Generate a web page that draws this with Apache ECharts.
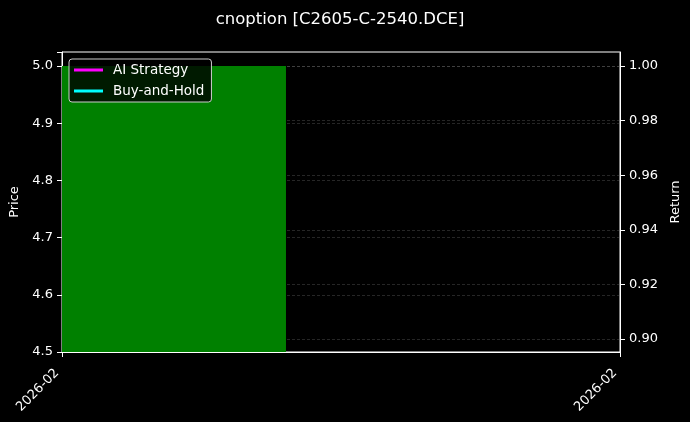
<!DOCTYPE html>
<html>
<head>
<meta charset="utf-8">
<script src="https://cdn.jsdelivr.net/npm/echarts@6/dist/echarts.min.js"></script>
<style>
html,body{margin:0;padding:0;background:#000;}
#c{width:690px;height:422px;}
</style>
</head>
<body>
<div id="c"></div>
<script>
const titleText = 'cnoption [C2605-C-2540.DCE]';
const xTickLabels = ['2026-02', '2026-02'];
const priceX = [0, 0.4014];
const priceY = [5.0, 5.0];
const returnTicks = [0.90, 0.92, 0.94, 0.96, 0.98, 1.00];
const aiStrategy = [];
const buyHold = [];

const chart = echarts.init(document.getElementById('c'));
const font = 'DejaVu Sans';
chart.setOption({
  backgroundColor: '#000',
  animation: false,
  title: {
    text: titleText, left: 335, top: 6, textAlign: 'center',
    textStyle: { color: '#fff', fontSize: 16.5, fontWeight: 'normal', fontFamily: font }
  },
  legend: {
    orient: 'vertical', left: 69, top: 59,
    backgroundColor: 'rgba(0,0,0,0.8)', borderColor: '#ccc', borderWidth: 1, borderRadius: 3,
    padding: [4, 7, 4, 5], itemGap: 7, itemWidth: 29, itemHeight: 3,
    textStyle: { color: '#fff', fontSize: 13.5, fontFamily: font, padding: [0, 0, 0, 5] },
    data: [
      { name: 'AI Strategy', icon: 'rect' },
      { name: 'Buy-and-Hold', icon: 'rect' }
    ]
  },
  grid: {
    left: 62, right: 70, top: 52, bottom: 70,
    show: true, borderColor: '#fff', borderWidth: 1, backgroundColor: 'transparent'
  },
  xAxis: {
    type: 'value', min: 0, max: 1, interval: 1,
    axisLine: { show: true, lineStyle: { color: '#fff' } },
    axisTick: { show: true, length: 5, lineStyle: { color: '#fff' } },
    splitLine: { show: false },
    axisLabel: {
      color: '#fff', fontSize: 13, fontFamily: font, rotate: 45, margin: 14,
      padding: [0, 7, 0, 0],
      formatter: v => xTickLabels[Math.round(v)]
    }
  },
  yAxis: [
    {
      type: 'value', min: 4.5, max: 5.0245, interval: 0.1,
      name: 'Price', nameLocation: 'middle', nameGap: 38, nameRotate: 90,
      nameTextStyle: { color: '#fff', fontSize: 13, fontFamily: font },
      axisLine: { show: true, lineStyle: { color: '#fff' } },
      axisTick: { show: true, length: 5, lineStyle: { color: '#fff' } },
      axisLabel: { color: '#fff', fontSize: 13, fontFamily: font, margin: 9,
        formatter: v => v <= 5.0001 ? v.toFixed(1) : '' },
      splitLine: { show: true, lineStyle: { color: 'rgba(128,128,128,0.5)', type: [3, 2], width: 0.6 } }
    },
    {
      type: 'value', min: 0.89524, max: 1.00513,
      name: 'Return', nameLocation: 'middle', nameGap: 44, nameRotate: 90,
      nameTextStyle: { color: '#fff', fontSize: 13, fontFamily: font },
      axisLine: { show: true, lineStyle: { color: '#fff' } },
      axisTick: { show: true, length: 5, lineStyle: { color: '#fff' }, customValues: returnTicks },
      axisLabel: { color: '#fff', fontSize: 13, fontFamily: font, margin: 9,
        customValues: returnTicks, formatter: v => v.toFixed(2) },
      splitLine: { show: true, lineStyle: { color: 'rgba(128,128,128,0.5)', type: [3, 2], width: 0.6 } }
    }
  ],
  series: [
    {
      type: 'line', name: 'price', yAxisIndex: 0, step: 'end', symbol: 'none', z: 1,
      lineStyle: { width: 0 },
      areaStyle: { color: '#008000', opacity: 1, origin: 'start' },
      data: priceX.map((x, i) => [x, priceY[i]])
    },
    {
      type: 'line', name: 'AI Strategy', yAxisIndex: 1, symbol: 'none',
      itemStyle: { color: '#ff00ff' }, lineStyle: { color: '#ff00ff', width: 2 },
      data: aiStrategy
    },
    {
      type: 'line', name: 'Buy-and-Hold', yAxisIndex: 1, symbol: 'none',
      itemStyle: { color: '#00ffff' }, lineStyle: { color: '#00ffff', width: 2 },
      data: buyHold
    }
  ]
});
</script>
</body>
</html>
